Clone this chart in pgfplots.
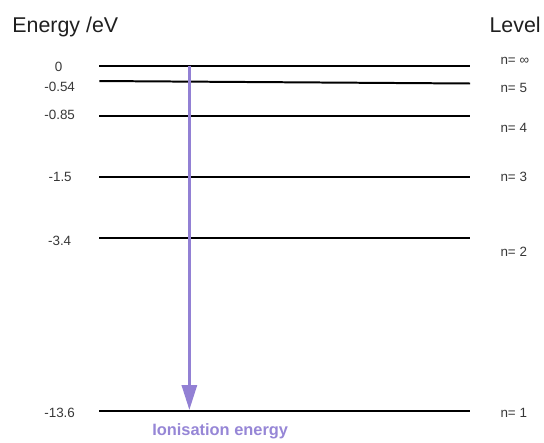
\documentclass[border=0pt]{standalone}
\usepackage{pgfplots}
\pgfplotsset{compat=1.18}
\usepackage{fontspec}
\setmainfont{Liberation Sans}
\usetikzlibrary{arrows.meta}
\definecolor{ion}{RGB}{146,128,212}
\definecolor{iontext}{RGB}{150,134,214}
\definecolor{lbl}{RGB}{55,55,55}
\begin{document}
\begin{tikzpicture}
\begin{axis}[
  scale only axis, width=544pt, height=442pt,
  xmin=0, xmax=544, ymin=0, ymax=442, y dir=reverse,
  hide axis, clip=false,
  every node/.style={inner sep=0pt},
]
\path (axis cs:0,0) rectangle (axis cs:544,442);
% energy levels (drawn at their positions in the diagram)
\addplot[black, line width=2pt] coordinates {(100,66) (473,66)};     % 0 eV, n = inf
\addplot[black, line width=2pt] coordinates {(100,81.5) (473,84)};   % -0.54 eV, n = 5
\addplot[black, line width=2pt] coordinates {(100,117) (473,117)};   % -0.85 eV, n = 4
\addplot[black, line width=2pt] coordinates {(100,178) (473,178)};   % -1.5 eV, n = 3
\addplot[black, line width=2pt] coordinates {(100,239) (473,239)};   % -3.4 eV, n = 2
\addplot[black, line width=2pt] coordinates {(100,413) (473,413)};   % -13.6 eV, n = 1
% ionisation arrow
\addplot[ion, line width=3pt, -{Triangle[width=15pt,length=25pt]}] coordinates {(190.5,66) (190.5,412.5)};
% titles
\node[anchor=base west, text=black!88] at (axis cs:9,33) {\fontsize{21.5}{24}\selectfont Energy /eV};
\node[anchor=base west, text=black!88] at (axis cs:489,33) {\fontsize{21.5}{24}\selectfont Level};
% energy labels
\begin{scope}[every node/.append style={anchor=base, text=lbl, font=\fontsize{13.5}{15}\selectfont}]
\node at (axis cs:59,72) {0};
\node at (axis cs:60,92) {-0.54};
\node at (axis cs:60,120) {-0.85};
\node at (axis cs:60.5,183) {-1.5};
\node at (axis cs:60,247) {-3.4};
\node at (axis cs:60,420) {-13.6};
\end{scope}
% level labels
\begin{scope}[every node/.append style={anchor=base west, text=lbl, font=\fontsize{13.5}{15}\selectfont}]
\node at (axis cs:500,65) {n= ∞};
\node at (axis cs:500,93) {n= 5};
\node at (axis cs:500,133) {n= 4};
\node at (axis cs:500,183) {n= 3};
\node at (axis cs:500,258) {n= 2};
\node at (axis cs:500,420) {n= 1};
\end{scope}
\node[anchor=base, text=iontext] at (axis cs:221.5,438) {\fontsize{16.5}{18}\selectfont\bfseries Ionisation energy};
\end{axis}
\end{tikzpicture}
\end{document}
